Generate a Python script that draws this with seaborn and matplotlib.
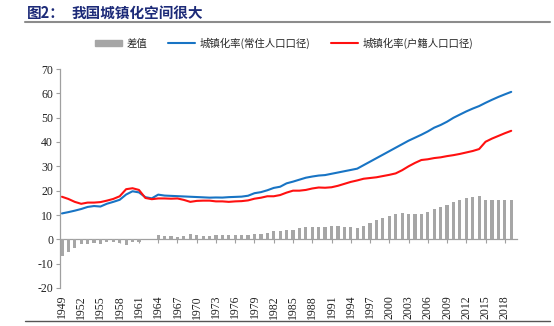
import matplotlib
matplotlib.use("Agg")
import matplotlib.pyplot as plt
import seaborn as sns
import pandas as pd
from matplotlib.lines import Line2D
from matplotlib.patches import Patch

years = list(range(1949, 2020))
changzhu = [10.64, 11.18, 11.78, 12.46, 13.31, 13.69, 13.48, 14.62, 15.39, 16.25,
            18.41, 19.75, 19.29, 17.33, 16.84, 18.37, 17.98, 17.86, 17.74, 17.62,
            17.50, 17.38, 17.26, 17.13, 17.20, 17.16, 17.34, 17.44, 17.55, 17.92,
            18.96, 19.39, 20.16, 21.13, 21.62, 23.01, 23.71, 24.52, 25.32, 25.81,
            26.21, 26.41, 26.94, 27.46, 27.99, 28.51, 29.04, 30.48, 31.91, 33.35,
            34.78, 36.22, 37.66, 39.09, 40.53, 41.76, 42.99, 44.34, 45.89, 46.99,
            48.34, 49.95, 51.27, 52.57, 53.73, 54.77, 56.10, 57.35, 58.52, 59.58,
            60.60]
huji = [17.5, 16.6, 15.4, 14.6, 15.1, 15.1, 15.3, 15.9, 16.6, 17.7,
        20.6, 21.0, 20.3, 17.0, 16.5, 16.8, 16.8, 16.7, 16.8, 16.2,
        15.4, 15.8, 15.9, 15.9, 15.6, 15.6, 15.4, 15.6, 15.7, 16.0,
        16.7, 17.1, 17.7, 17.7, 18.2, 19.2, 20.0, 20.0, 20.3, 20.9,
        21.3, 21.2, 21.4, 22.0, 22.8, 23.6, 24.2, 24.9, 25.2, 25.5,
        26.0, 26.5, 27.1, 28.4, 30.0, 31.4, 32.6, 32.9, 33.4, 33.7,
        34.2, 34.6, 35.1, 35.7, 36.3, 37.1, 40.1, 41.4, 42.5, 43.6,
        44.6]
chazhi = [-6.9, -5.4, -3.6, -2.1, -1.8, -1.4, -1.8, -1.3, -1.2, -1.4,
          -2.2, -1.2, -1.0, 0.3, 0.3, 1.6, 1.2, 1.2, 0.9, 1.4,
          2.1, 1.6, 1.4, 1.2, 1.6, 1.6, 1.9, 1.8, 1.9, 1.9,
          2.3, 2.3, 2.5, 3.4, 3.4, 3.8, 3.7, 4.5, 5.0, 4.9,
          4.9, 5.2, 5.5, 5.5, 5.2, 4.9, 4.8, 5.6, 6.7, 7.9,
          8.8, 9.7, 10.6, 10.7, 10.5, 10.4, 10.4, 11.4, 12.5, 13.3,
          14.1, 15.4, 16.2, 16.9, 17.4, 17.7, 16.0, 16.0, 16.0, 16.0,
          16.0]
xtick_years = list(range(1949, 2020, 3))
ytick_vals = list(range(-20, 80, 10))
labels = ["差值", "城镇化率(常住人口口径)", "城镇化率(户籍人口口径)"]
title_a = "图2："
title_b = "我国城镇化空间很大"

df = pd.DataFrame({"year": years, "cz": changzhu, "hj": huji, "diff": chazhi})

sns.set_style("white")
cjk = ["Noto Sans CJK SC", "DejaVu Sans"]
serif = ["Liberation Serif", "DejaVu Serif"]
plt.rcParams["font.family"] = cjk

BAR = "#a6a6a6"
BLUE = "#1874c4"
RED = "#ff1010"
GRAY = "#a0a0a0"

fig = plt.figure(figsize=(5.54, 3.26), dpi=100)
ax = fig.add_axes([60/554, 1-288/326, (517-60)/554, (288-69)/326])

sns.barplot(data=df, x="year", y="diff", native_scale=True, color=BAR,
            width=0.5, ax=ax, saturation=1, linewidth=0)
sns.lineplot(data=df, x="year", y="cz", color=BLUE, lw=1.5, ax=ax)
sns.lineplot(data=df, x="year", y="hj", color=RED, lw=1.5, ax=ax)

ax.set_xlim(1948.7, 2019.9)
ax.set_ylim(-20, 70)
ax.set_xlabel("")
ax.set_ylabel("")
ax.set_yticks(ytick_vals)
ax.set_yticklabels([str(v) for v in ytick_vals], family=serif, fontsize=8.5, color="#222222")
ax.set_xticks(xtick_years)
ax.set_xticklabels([str(v) for v in xtick_years], family=serif, fontsize=8.5,
                   rotation=90, color="#222222")
ax.tick_params(axis="x", length=0, pad=5)
ax.tick_params(axis="y", length=3, width=0.8, color=GRAY, pad=2, direction="out", left=True)
for s in ["top", "right", "bottom"]:
    ax.spines[s].set_visible(False)
ax.spines["left"].set_color(GRAY)
ax.spines["left"].set_linewidth(0.9)

sec = ax.secondary_xaxis(20/90)
sec.set_xticks(xtick_years)
sec.tick_params(axis="x", length=3, width=0.8, color=GRAY, labelbottom=False)
sec.spines["bottom"].set_color(GRAY)
sec.spines["bottom"].set_linewidth(0.9)

handles = [Patch(color=BAR), Line2D([], [], color=BLUE, lw=1.5), Line2D([], [], color=RED, lw=1.5)]
fig.legend(handles, labels, loc="center", bbox_to_anchor=(284/554, 1-43/326), ncol=3,
           frameon=False, handlelength=2.6, handleheight=0.6,
           columnspacing=2.0, handletextpad=0.4, borderpad=0,
           prop={"family": cjk, "size": 7.5})

fig.text(27/554, 1-13/326, title_a, fontsize=10.5, fontweight="bold", color="#1c2a78",
         va="center", ha="left", family=cjk)
fig.text(72/554, 1-13/326, title_b, fontsize=10.5, fontweight="bold", color="#1c2a78",
         va="center", ha="left", family=cjk)

fig.add_artist(Line2D([25/554, 550/554], [1-22/326, 1-22/326], color="#8c8c8c", lw=1.5))
fig.add_artist(Line2D([25/554, 550/554], [1-321/326, 1-321/326], color="#555555", lw=1.0))

fig.savefig("out.png", dpi=100)
